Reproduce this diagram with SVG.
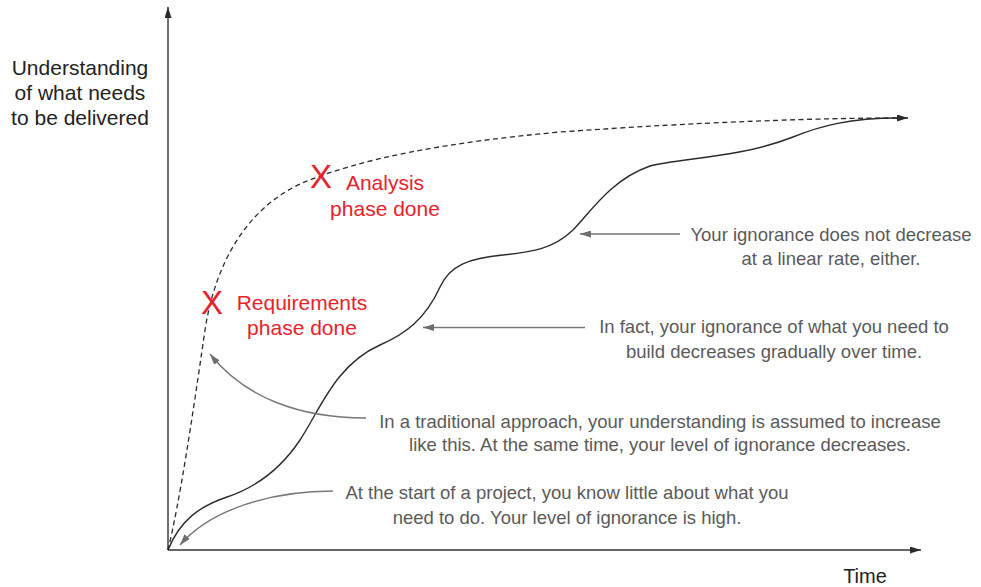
<svg xmlns="http://www.w3.org/2000/svg" width="981" height="587" viewBox="0 0 981 587">
<style>
.axis{fill:none;stroke:#333;stroke-width:1.4}
.curve{fill:none;stroke:#2b2b2b;stroke-width:1.4}
.dash{fill:none;stroke:#2b2b2b;stroke-width:1.3;stroke-dasharray:5,3.5}
.ptr{fill:none;stroke:#777;stroke-width:1.4}
.note{font-family:"Liberation Sans",Arial,sans-serif;font-size:18.5px;fill:#5a5a5a;text-anchor:middle}
.red{font-family:"Liberation Sans",Arial,sans-serif;font-size:21px;fill:#e8222a;text-anchor:middle}
.mark{font-family:"Liberation Sans",Arial,sans-serif;font-size:33px;fill:#e8222a;text-anchor:middle}
.lbl{font-family:"Liberation Sans",Arial,sans-serif;font-size:21px;fill:#222;text-anchor:middle}
</style>
<defs>
<marker id="ah" viewBox="0 0 11 7" refX="11" refY="3.5" markerWidth="11" markerHeight="7" markerUnits="userSpaceOnUse" orient="auto">
<path d="M0,0 L11,3.5 L0,7 z" fill="#2b2b2b"/>
</marker>
<marker id="gh" viewBox="0 0 11 7" refX="11" refY="3.5" markerWidth="11" markerHeight="7" markerUnits="userSpaceOnUse" orient="auto">
<path d="M0,0 L11,3.5 L0,7 z" fill="#6e6e6e"/>
</marker>
</defs>
<rect width="981" height="587" fill="#fff"/>
<g id="axes">
<path class="axis" d="M168,550 L168,7" marker-end="url(#ah)"/>
<path class="axis" d="M168,550 L921,550" marker-end="url(#ah)"/>
<text class="lbl" x="80" y="75">Understanding</text>
<text class="lbl" x="80" y="100">of what needs</text>
<text class="lbl" x="80" y="125">to be delivered</text>
<text class="lbl" x="865" y="583" style="font-size:20px">Time</text>
</g>
<g id="connectors">
<path class="dash" d="M168,550 C180,500 192,420 205,330 C215,265 245,210 300,184 C360,158 450,142 560,132 C700,122 820,118 898,118"/>
<path class="curve" d="M168,550 C180,520 200,506 227,497 C254,488 280,470 300,440 C320,410 335,365 380,345 C405,334 425,320 440,287 C450,265 470,258 503,255 C530,252 552,250 573,230 C590,213 610,180 650,166 C680,158 740,158 793,137 C820,126 850,118 898,118 L908,118" marker-end="url(#ah)"/>
<path class="ptr" d="M680,234 L580,234" marker-end="url(#gh)"/>
<path class="ptr" d="M585,327.5 L423,327.5" marker-end="url(#gh)"/>
<path class="ptr" d="M366,418 C300,418 245,398 210,354" marker-end="url(#gh)"/>
<path class="ptr" d="M333,491 C270,491 210,510 180,545" marker-end="url(#gh)"/>
</g>
<g id="analysis">
<text class="mark" x="321" y="188">X</text>
<text class="red" x="385" y="190">Analysis</text>
<text class="red" x="385" y="216">phase done</text>
</g>
<g id="requirements">
<text class="mark" x="212" y="314">X</text>
<text class="red" x="302" y="310">Requirements</text>
<text class="red" x="302" y="335">phase done</text>
</g>
<g id="note-linear">
<text class="note" x="831" y="241">Your ignorance does not decrease</text>
<text class="note" x="831" y="265">at a linear rate, either.</text>
</g>
<g id="note-gradual">
<text class="note" x="774" y="333">In fact, your ignorance of what you need to</text>
<text class="note" x="774" y="358">build decreases gradually over time.</text>
</g>
<g id="note-traditional">
<text class="note" x="660" y="428">In a traditional approach, your understanding is assumed to increase</text>
<text class="note" x="660" y="451">like this. At the same time, your level of ignorance decreases.</text>
</g>
<g id="note-start">
<text class="note" x="567" y="499">At the start of a project, you know little about what you</text>
<text class="note" x="567" y="524">need to do. Your level of ignorance is high.</text>
</g>
</svg>
